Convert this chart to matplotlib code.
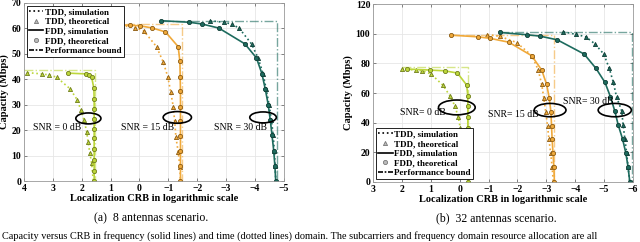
import numpy as np
import matplotlib
matplotlib.use('Agg')
import matplotlib.pyplot as plt
from matplotlib.patches import Ellipse
from matplotlib.lines import Line2D

plt.rcParams['font.family'] = ['Liberation Serif', 'DejaVu Serif']

# ---- data: (a) 8 antennas ----
a_snr0_fdd_x = [2.48, 1.85, 1.76, 1.66, 1.58, 1.57, 1.57, 1.57, 1.57, 1.57, 1.57, 1.57, 1.57, 1.57]
a_snr0_fdd_y = [42.4, 42.1, 41.8, 41.0, 36.4, 32.2, 28.3, 24.4, 20.5, 16.8, 12.6, 8.2, 4.0, 0.0]
a_snr0_tdd_x = [3.88, 3.39, 3.13, 2.87, 2.41, 2.16, 2.03, 1.92, 1.83, 1.78, 1.72, 1.66, 1.60]
a_snr0_tdd_y = [42.6, 42.1, 41.7, 40.8, 36.3, 32.0, 27.9, 24.0, 19.4, 15.3, 11.1, 7.2, 0.0]
a_snr0_bound = (4.0, 1.54, 43.7)

a_snr15_fdd_x = [0.97, 0.33, -0.01, -0.42, -0.90, -1.34, -1.40, -1.41, -1.42, -1.42, -1.42, -1.42, -1.42, -1.42, -1.42]
a_snr15_fdd_y = [61.6, 61.2, 61.0, 60.2, 58.6, 52.8, 47.0, 41.0, 35.3, 29.2, 23.5, 17.7, 11.8, 5.9, 0.0]
a_snr15_tdd_x = [0.93, 0.16, -0.15, -0.59, -0.82, -0.98, -1.08, -1.17, -1.22, -1.26, -1.34, -1.40, -1.42]
a_snr15_tdd_y = [61.6, 60.3, 59.0, 52.8, 46.8, 41.0, 35.1, 29.2, 23.4, 17.4, 11.5, 5.6, 0.0]
a_snr15_bound = (1.0, -1.46, 61.9)

a_snr30_fdd_x = [-0.76, -1.72, -2.17, -2.75, -3.65, -4.05, -4.24, -4.36, -4.46, -4.53, -4.59, -4.65, -4.69, -4.72]
a_snr30_fdd_y = [63.0, 62.4, 61.7, 60.1, 53.9, 48.4, 42.2, 36.0, 29.9, 24.0, 18.0, 11.9, 5.9, 0.0]
a_snr30_tdd_x = [-2.44, -2.92, -3.19, -3.45, -3.88, -4.11, -4.28, -4.39, -4.49, -4.57, -4.63, -4.67, -4.70, -4.72]
a_snr30_tdd_y = [63.0, 62.4, 61.7, 60.1, 53.9, 48.3, 42.2, 36.0, 29.9, 24.0, 18.0, 11.9, 5.9, 0.0]
a_snr30_bound = (-0.76, -4.77, 63.0)

# ---- (b) 32 antennas ----
b_snr0_fdd_x = [1.84, 1.02, 0.52, 0.08, -0.24, -0.28, -0.28, -0.28, -0.28, -0.28, -0.28, -0.28, -0.28, -0.28]
b_snr0_fdd_y = [76.2, 75.5, 75.0, 73.5, 65.4, 58.2, 51.0, 43.6, 36.4, 29.2, 22.0, 14.6, 7.4, 0.0]
b_snr0_tdd_x = [2.00, 1.51, 1.29, 0.99, 0.59, 0.34, 0.16, 0.05, -0.02, -0.10, -0.16, -0.22, -0.25, -0.28]
b_snr0_tdd_y = [76.2, 75.5, 75.0, 72.8, 65.4, 58.2, 51.0, 43.6, 36.4, 29.2, 22.0, 14.6, 7.4, 0.0]
b_snr0_bound = (2.0, -0.30, 77.7)

b_snr15_fdd_x = [0.31, -0.64, -1.05, -1.70, -2.49, -2.84, -3.01, -3.10, -3.16, -3.18, -3.20, -3.23, -3.26, -3.28]
b_snr15_fdd_y = [99.1, 97.9, 96.9, 94.3, 85.2, 75.5, 65.8, 56.8, 47.0, 38.0, 29.0, 19.4, 10.3, 0.0]
b_snr15_tdd_x = [-0.96, -1.40, -1.97, -2.50, -2.72, -2.84, -2.91, -2.98, -3.04, -3.09, -3.15, -3.20, -3.24]
b_snr15_tdd_y = [99.5, 98.2, 94.1, 85.2, 75.5, 65.8, 56.8, 47.0, 38.0, 28.8, 19.4, 10.3, 0.0]
b_snr15_bound = (0.3, -3.27, 99.0)

b_snr30_fdd_x = [-1.39, -2.34, -2.78, -3.38, -4.31, -4.72, -5.03, -5.22, -5.37, -5.49, -5.64, -5.75, -5.83, -5.89]
b_snr30_fdd_y = [100.9, 99.3, 98.4, 95.9, 86.3, 76.6, 67.2, 57.5, 47.9, 38.4, 29.0, 19.8, 10.3, 0.0]
b_snr30_tdd_x = [-3.59, -4.01, -4.37, -4.68, -4.99, -5.18, -5.32, -5.43, -5.61, -5.66, -5.72, -5.78, -5.83, -5.89]
b_snr30_tdd_y = [101.3, 99.7, 97.9, 93.2, 86.3, 76.6, 67.2, 57.5, 47.9, 38.4, 29.0, 19.8, 10.3, 0.0]
b_snr30_bound = (-1.39, -5.95, 101.3)

# ellipses (x, y, w, h) and labels (text, x, y)
a_ellipses = [(1.77, 24.6, 0.87, 4.3), (-1.31, 25.0, 0.98, 4.6), (-4.28, 25.0, 0.92, 4.3)]
a_labels = [('SNR = 0 dB', 2.85, 21.0), ('SNR = 15 dB', -0.28, 21.2), ('SNR = 30 dB', -3.5, 21.2)]
b_ellipses = [(0.10, 50.3, 1.27, 10.0), (-3.13, 48.5, 1.10, 9.0), (-5.37, 48.5, 1.15, 9.0)]
b_labels = [('SNR= 0 dB', 1.26, 47.0), ('SNR= 15 dB', -1.86, 45.6), ('SNR= 30 dB', -4.45, 54.0)]

colors = ['#bcd63a', '#f0a93a', '#1d6b5e']
edges = ['#6f7d1c', '#8a5a12', '#0f3d35']


def draw_panel(ax, curves, bounds, ellipses, labels, xlim, ylim, yticks, legend_loc):
    for i, (fx, fy, tx, ty) in enumerate(curves):
        c = colors[i]
        x0, x1, top = bounds[i]
        ax.plot([x0, x1, x1], [top, top, 0], ls='-.', color=c, lw=1.0, alpha=0.6)
        ax.plot(tx, ty, ls=':', color=c, lw=1.2, marker='^', ms=3.0,
                mfc=c, mec=edges[i], mew=0.6)
        ax.plot(fx, fy, ls='-', color=c, lw=1.2, marker='o', ms=3.0,
                mfc=c, mec=edges[i], mew=0.6)
    for (ex, ey, ew, eh) in ellipses:
        ax.add_patch(Ellipse((ex, ey), ew, eh, fill=False, ec='black', lw=1.2, zorder=5))
    for (t, lx, ly) in labels:
        ax.text(lx, ly, t, fontsize=7, ha='center', va='center')
    ax.set_xlim(*xlim)
    ax.set_ylim(*ylim)
    ax.set_xticks(np.arange(xlim[0], xlim[1] - 1, -1))
    ax.set_yticks(yticks)
    ax.grid(True, color='#e6e6e6', lw=0.6)
    ax.set_axisbelow(True)
    ax.tick_params(direction='in', top=True, right=True, length=2.5, width=0.5,
                   labelsize=7, pad=2, color='#555555')
    for lab in ax.get_xticklabels() + ax.get_yticklabels():
        lab.set_fontweight('bold')
    for s in ax.spines.values():
        s.set_color('#999999')
        s.set_linewidth(0.6)
    ax.set_xlabel('Localization CRB in logarithmic scale', fontsize=7.5,
                  fontweight='bold', labelpad=1)
    ax.set_ylabel('Capacity (Mbps)', fontsize=7.5, fontweight='bold', labelpad=2)
    handles = [
        Line2D([], [], ls=':', color='black', lw=1.2),
        Line2D([], [], ls='', marker='^', ms=3.0, mfc='#bbbbbb', mec='#777777', mew=0.6),
        Line2D([], [], ls='-', color='black', lw=1.2),
        Line2D([], [], ls='', marker='o', ms=3.0, mfc='#bbbbbb', mec='#777777', mew=0.6),
        Line2D([], [], ls=(0, (3, 1, 1, 1)), color='black', lw=1.2),
    ]
    names = ['TDD, simulation', 'TDD, theoretical', 'FDD, simulation',
             'FDD, theoretical', 'Performance bound']
    leg = ax.legend(handles, names, loc=legend_loc, frameon=True,
                    fancybox=False, edgecolor='black', framealpha=1,
                    handlelength=1.6, handletextpad=0.2, borderpad=0.25,
                    labelspacing=0.15, borderaxespad=0.3,
                    prop={'weight': 'bold', 'size': 6.5})
    leg.get_frame().set_linewidth(0.6)


fig = plt.figure(figsize=(6.4, 2.42), dpi=100)
ax1 = fig.add_axes([0.0375, 0.252, 0.406, 0.736])
ax2 = fig.add_axes([0.583, 0.248, 0.406, 0.735])

draw_panel(ax1,
           [(a_snr0_fdd_x, a_snr0_fdd_y, a_snr0_tdd_x, a_snr0_tdd_y),
            (a_snr15_fdd_x, a_snr15_fdd_y, a_snr15_tdd_x, a_snr15_tdd_y),
            (a_snr30_fdd_x, a_snr30_fdd_y, a_snr30_tdd_x, a_snr30_tdd_y)],
           [a_snr0_bound, a_snr15_bound, a_snr30_bound],
           a_ellipses, a_labels, (4, -5), (0, 70), np.arange(0, 71, 10), 'upper left')

draw_panel(ax2,
           [(b_snr0_fdd_x, b_snr0_fdd_y, b_snr0_tdd_x, b_snr0_tdd_y),
            (b_snr15_fdd_x, b_snr15_fdd_y, b_snr15_tdd_x, b_snr15_tdd_y),
            (b_snr30_fdd_x, b_snr30_fdd_y, b_snr30_tdd_x, b_snr30_tdd_y)],
           [b_snr0_bound, b_snr15_bound, b_snr30_bound],
           b_ellipses, b_labels, (3, -6), (0, 120), np.arange(0, 121, 20), 'lower left')

fig.text(0.236, 0.099, '(a)  8 antennas scenario.', fontsize=8.5, ha='center', va='center')
fig.text(0.775, 0.099, '(b)  32 antennas scenario.', fontsize=8.5, ha='center', va='center')
fig.text(0.003, 0.004, 'Capacity versus CRB in frequency (solid lines) and time (dotted lines) domain. '
         'The subcarriers and frequency domain resource allocation are all',
         fontsize=7.4, ha='left', va='bottom')

fig.savefig('out.png', dpi=100)
